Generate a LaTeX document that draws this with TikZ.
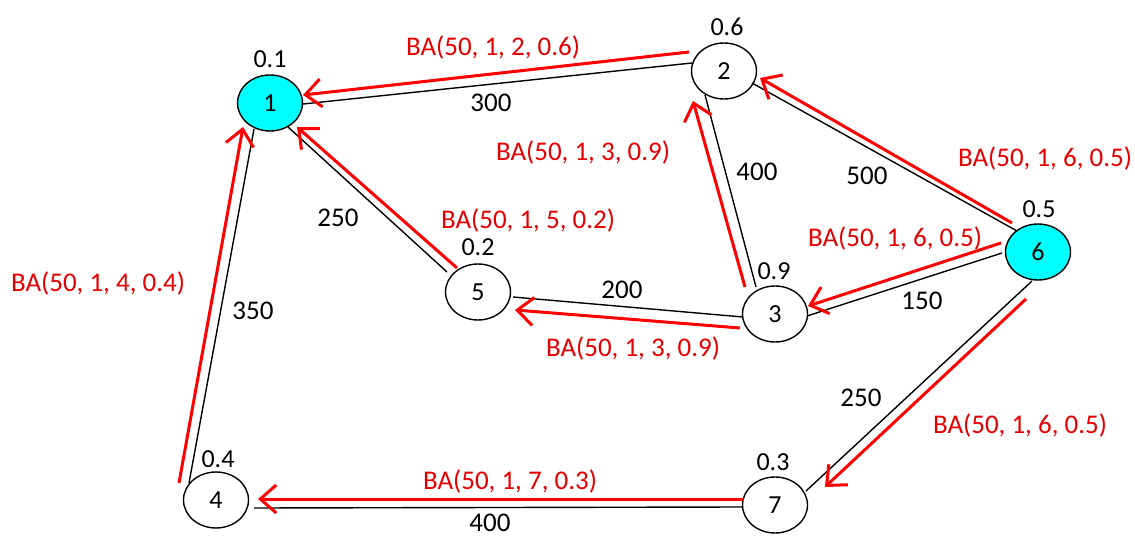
\documentclass[tikz,border=0pt]{standalone}
\usepackage{fontspec}
\setmainfont{Carlito}
\usetikzlibrary{shapes.geometric,arrows.meta,calc}
\definecolor{nodecyan}{RGB}{0,255,255}
\definecolor{lred}{RGB}{255,0,0}
\definecolor{tred}{RGB}{228,0,0}
\tikzset{
  vert/.style={ellipse,draw=black,line width=1.4pt,minimum width=65pt,minimum height=56pt,inner sep=0pt,font=\fontsize{26}{26}\selectfont},
  hot/.style={vert,fill=nodecyan},
  edge/.style={draw=black,line width=1.4pt},
  redarrow/.style={draw=lred,line width=3pt,-{Straight Barb[length=16pt,width=28pt,line width=3pt]}},
  wlab/.style={font=\fontsize{26}{26}\selectfont,inner sep=0pt},
  elab/.style={font=\fontsize{27}{27}\selectfont,inner sep=0pt},
  rlab/.style={font=\fontsize{27}{27}\selectfont,inner sep=0pt,text=tred}
}
\begin{document}
\begin{tikzpicture}[x=1pt,y=-1pt]
\useasboundingbox (0,0) rectangle (1135,537);
% nodes
\node[hot]  (n1) at (270,103) {1};
\node[vert] (n2) at (724,71) {2};
\node[vert] (n3) at (775,314) {3};
\node[vert] (n4) at (216,500) {4};
\node[vert] (n5) at (478,292) {5};
\node[hot]  (n6) at (1038,252) {6};
\node[vert] (n7) at (775,505) {7};
% weights
\node[wlab] (w1) at (270,59) {0.1};
\node[wlab] (w2) at (727,27) {0.6};
\node[wlab] (w3) at (774,271) {0.9};
\node[wlab] (w4) at (218,459) {0.4};
\node[wlab] (w5) at (478,247) {0.2};
\node[wlab] (w6) at (1039,209) {0.5};
\node[wlab] (w7) at (773,462) {0.3};
% black edges
\draw[edge] ($(n1)+(33,1)$) -- ($(n2)+(-32,-8)$);
\draw[edge] ($(n1)+(18,24)$) -- ($(n5)+(-31,-20)$);
\draw[edge] ($(n1)+(-16,26)$) -- ($(n4)+(-27,-17)$);
\draw[edge] ($(n2)+(-19,24)$) -- ($(n3)+(-19,-27)$);
\draw[edge] ($(n2)+(28,12)$) -- ($(n6)+(-21,-21)$);
\draw[edge] ($(n5)+(35,5)$) -- ($(n3)+(-32,3)$);
\draw[edge] ($(n3)+(32,2)$) -- ($(n6)+(-36,1)$);
\draw[edge] ($(n6)+(-6,29)$) -- ($(n7)+(31,-14)$);
\draw[edge] ($(n4)+(38,8)$) -- ($(n7)+(-32,2)$);
% red arrows
\draw[redarrow] ($(n2)+(-35,-19)$) -- ($(n1)+(33,-8)$);
\draw[redarrow] ($(n5)+(-21,-24)$) -- ($(n1)+(27,24)$);
\draw[redarrow] ($(n4)+(-37,-17)$) -- ($(n1)+(-27,24)$);
\draw[redarrow] ($(n3)+(-30,-27)$) -- ($(n2)+(-31,30)$);
\draw[redarrow] ($(n6)+(-26,-29)$) -- ($(n2)+(36,7)$);
\draw[redarrow] ($(n3)+(-35,14)$) -- ($(n5)+(37,18)$);
\draw[redarrow] ($(n6)+(-37,-9)$) -- ($(n3)+(33,-8)$);
\draw[redarrow] ($(n6)+(-12,47)$) -- ($(n7)+(50,-18)$);
\draw[redarrow] ($(n7)+(-32,-6)$) -- ($(n4)+(42,-1)$);
% edge cost labels
\node[elab] (c12) at (491,103) {300};
\node[elab] (c23) at (757,172) {400};
\node[elab] (c26) at (867,176) {500};
\node[elab] (c15) at (338,218) {250};
\node[elab] (c14) at (253,311) {350};
\node[elab] (c35) at (622,290) {200};
\node[elab] (c36) at (922,301) {150};
\node[elab] (c67) at (861,398) {250};
\node[elab] (c47) at (490,523) {400};
% red labels
\node[rlab] (r21) at (493,48) {BA(50, 1, 2, 0.6)};
\node[rlab] (r32) at (583,152) {BA(50, 1, 3, 0.9)};
\node[rlab] (r62) at (1045,158) {BA(50, 1, 6, 0.5)};
\node[rlab] (r51) at (528,220) {BA(50, 1, 5, 0.2)};
\node[rlab] (r63) at (895,238) {BA(50, 1, 6, 0.5)};
\node[rlab] (r41) at (98,283) {BA(50, 1, 4, 0.4)};
\node[rlab] (r35) at (633,348) {BA(50, 1, 3, 0.9)};
\node[rlab] (r67) at (1020,425) {BA(50, 1, 6, 0.5)};
\node[rlab] (r74) at (510,481) {BA(50, 1, 7, 0.3)};
\end{tikzpicture}
\end{document}
